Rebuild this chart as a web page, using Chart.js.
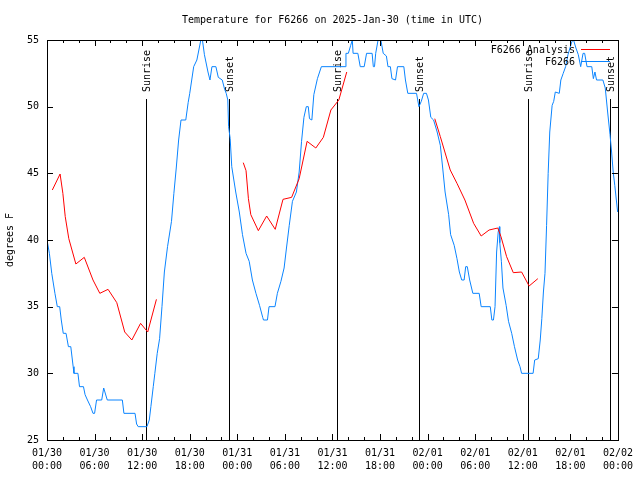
<!DOCTYPE html>
<html><head><meta charset="utf-8">
<script src="https://cdn.jsdelivr.net/npm/chart.js@4"></script>
<style>html,body{margin:0;padding:0;background:#fff}canvas{display:block}</style>
</head><body>
<canvas id="c" width="640" height="480"></canvas>
<script>
const titleText = 'Temperature for F6266 on 2025-Jan-30 (time in UTC)';
const yAxisTitle = 'degrees F';
const tickDates = ['01/30','01/30','01/30','01/30','01/31','01/31','01/31','01/31','02/01','02/01','02/01','02/01','02/02'];
const tickTimes = ['00:00','06:00','12:00','18:00','00:00','06:00','12:00','18:00','00:00','06:00','12:00','18:00','00:00'];

// hours since 2025-01-30 00:00 UTC
const stationHours = [0,0.3,0.6,1.0,1.3,1.6,1.8,2.05,2.4,2.7,3.0,3.3,3.4,3.9,4.1,4.6,4.8,5.1,5.5,5.8,6.0,6.25,6.9,7.15,7.3,7.6,9.5,9.7,11.1,11.3,11.5,12.6,12.9,13.1,13.4,13.6,13.9,14.2,14.5,14.8,15.2,15.7,16.0,16.3,16.6,16.9,17.5,17.8,18.0,18.5,18.9,19.1,19.4,19.6,19.85,20.3,20.55,20.8,21.3,21.6,22.1,22.4,22.6,22.8,22.9,23.1,23.3,23.8,24.25,24.65,25.1,25.5,25.9,26.35,26.8,27.2,27.3,27.8,28.0,28.75,29.05,29.5,29.9,30.2,30.55,30.95,31.45,31.8,32.1,32.4,32.7,32.95,33.1,33.4,33.65,34.1,34.6,37.6,37.7,38.0,38.3,38.5,38.6,39.2,39.5,40.0,40.3,41.0,41.15,41.3,41.45,41.75,42.1,42.4,42.8,43.0,43.3,43.5,43.95,44.2,45.0,45.2,45.5,46.6,46.9,47.2,47.5,47.85,48.1,48.4,48.75,49.2,49.6,49.9,50.2,50.65,50.9,51.35,51.7,52.0,52.3,52.6,52.8,53.0,53.3,53.7,54.5,54.75,55.9,56.1,56.3,56.5,56.7,56.9,57.05,57.1,57.3,57.5,57.9,58.2,58.6,58.95,59.35,59.65,59.85,61.3,61.5,61.95,62.2,62.4,62.6,62.8,63.0,63.2,63.4,63.7,63.9,64.1,64.6,64.8,65.1,65.4,65.7,66.2,66.4,66.7,67.0,67.3,67.6,67.8,68.1,68.7,68.9,69.1,69.3,70.1,70.4,70.7,71.0,71.2,71.4,71.6,71.96];
const stationTemps = [40,39,37.5,36,35,35,34,33,33,32,32,30.5,30,30,29,29,28.4,28,27.5,27,27,28,28,28.9,28.6,28,28,27,27,26.2,26,26,26.5,27.5,29,30,31.5,32.6,35,37.6,39.5,41.4,43.5,45.4,47.5,49,49,50.3,51,53,53.5,54.1,55,55,53.9,52.6,52,53,53,52.2,52,51.3,51,50.5,48.5,47.6,45.5,43.6,42.1,40.4,39,38.4,37,36,35.1,34.2,34,34,35,35,36,36.9,37.9,39.4,41.1,42.9,43.6,45.1,47.4,49.2,50,50,49.1,49,50.9,52.1,53,53,54,54,54.6,55,54,54,53,53,54,54,53,53,54,55,55,54,53.8,53,53,52.1,52,53,53,52,51,51,50,50.4,51,51,50.5,49.2,49,48.1,47.1,45.4,43.6,41.9,40.4,39.6,38.6,37.6,37,37,38,38,37,36,36,35,35,34,34,35,39.1,40.6,41,39.8,38.4,36.4,35.1,33.9,33,32,31,30.5,30,30,31,31.1,32.5,34.1,36.1,37.5,41.1,45,48.1,50.1,50.4,51.1,51,52,52.5,53,53.9,54.9,55,54.4,53.9,53,54,54,53,53,52.1,52.6,52,52,51.4,49.6,47.9,46.6,45.1,44.1,42.1];

const analysisHours = [0.67,1.65,2.0,2.3,2.75,3.64,4.7,5.8,6.66,7.7,8.8,9.8,10.7,11.8,12.7,13.8,19,24.75,25.1,25.4,25.7,26.65,27.7,28.78,29.76,30.85,31.8,32.8,33.9,34.85,35.8,36.8,37.8,43,48.9,49.6,50.85,51.7,52.7,53.8,54.75,55.75,56.85,57.25,57.96,58.8,59.85,60.8,61.9];
const analysisTemps = [43.75,44.95,43.5,41.75,40.1,38.2,38.7,37,36,36.3,35.3,33.1,32.5,33.75,33.1,35.55,null,45.8,45.2,43.1,41.9,40.7,41.8,40.8,43.05,43.2,44.6,47.4,46.9,47.7,49.75,50.5,52.6,null,49.1,47.75,45.25,44.25,43,41.25,40.3,40.75,40.9,40.25,38.75,37.55,37.6,36.55,37.1];

const eventHours = [12.48, 22.9, 36.6, 46.9, 60.7, 71.0];
const eventLabels = ['Sunrise','Sunset','Sunrise','Sunset','Sunrise','Sunset'];

const seriesNames = ['F6266 Analysis', 'F6266'];
const seriesColors = ['#ff0000', '#0a84ff'];

const FONT = '10px "DejaVu Sans Mono", monospace';

const deco = {
  id: 'deco',
  beforeDatasetsDraw(chart) {
    const ctx = chart.ctx, a = chart.chartArea, xs = chart.scales.x;
    ctx.save();
    ctx.strokeStyle = '#000'; ctx.lineWidth = 1;
    ctx.fillStyle = '#000'; ctx.font = FONT;
    eventHours.forEach((h, i) => {
      const px = Math.round(xs.getPixelForValue(h)) + 0.5;
      ctx.beginPath(); ctx.moveTo(px, 99); ctx.lineTo(px, a.bottom); ctx.stroke();
      ctx.save();
      ctx.translate(px + 1, 92);
      ctx.rotate(-Math.PI / 2);
      ctx.textAlign = 'left'; ctx.textBaseline = 'middle';
      ctx.fillText(eventLabels[i], 0, 0);
      ctx.restore();
    });
    ctx.restore();
  },
  afterDatasetsDraw(chart) {
    const ctx = chart.ctx, a = chart.chartArea, xs = chart.scales.x, ys = chart.scales.y;
    ctx.save();
    ctx.strokeStyle = '#000'; ctx.lineWidth = 1;
    ctx.strokeRect(Math.round(a.left) + 0.5, Math.round(a.top) + 0.5, Math.round(a.right - a.left), Math.round(a.bottom - a.top));
    ctx.beginPath();
    for (let h = xs.min; h <= xs.max; h += 2) {
      const px = Math.round(xs.getPixelForValue(h)) + 0.5;
      const len = (h % 6 === 0) ? 6 : 3;
      ctx.moveTo(px, a.bottom); ctx.lineTo(px, a.bottom - len);
      ctx.moveTo(px, a.top); ctx.lineTo(px, a.top + len);
    }
    for (let v = ys.min; v <= ys.max; v += 5) {
      const py = Math.round(ys.getPixelForValue(v)) + 0.5;
      ctx.moveTo(a.left, py); ctx.lineTo(a.left + 6, py);
      ctx.moveTo(a.right, py); ctx.lineTo(a.right - 6, py);
    }
    ctx.stroke();
    // title
    ctx.fillStyle = '#000'; ctx.font = FONT;
    ctx.textAlign = 'center'; ctx.textBaseline = 'middle';
    ctx.fillText(titleText, (a.left + a.right) / 2, 20);
    // legend
    ctx.textAlign = 'right';
    [50, 62].forEach((y, i) => {
      ctx.fillStyle = '#000';
      ctx.fillText(seriesNames[i], 575, y);
      ctx.strokeStyle = seriesColors[i];
      ctx.beginPath(); ctx.moveTo(581, y - 0.5); ctx.lineTo(610, y - 0.5); ctx.stroke();
    });
    ctx.restore();
  }
};

new Chart(document.getElementById('c'), {
  type: 'line',
  data: {
    datasets: [
      {
        label: seriesNames[0],
        data: analysisHours.map((h, i) => ({x: h, y: analysisTemps[i]})),
        borderColor: seriesColors[0], borderWidth: 1, pointRadius: 0, tension: 0, fill: false, spanGaps: false
      },
      {
        label: seriesNames[1],
        data: stationHours.map((h, i) => ({x: h, y: stationTemps[i]})),
        borderColor: seriesColors[1], borderWidth: 1, pointRadius: 0, tension: 0, fill: false
      }
    ]
  },
  options: {
    responsive: false, animation: false, devicePixelRatio: 1,
    layout: { padding: { top: 40, right: 20, bottom: 0, left: 0 } },
    plugins: { legend: { display: false }, title: { display: false }, tooltip: { enabled: false } },
    scales: {
      x: {
        type: 'linear', min: 0, max: 72,
        grid: { display: false, drawTicks: false },
        border: { display: false },
        ticks: {
          stepSize: 6, autoSkip: false, maxRotation: 0, minRotation: 0, padding: 7,
          color: '#000', font: { family: '"DejaVu Sans Mono", monospace', size: 10, lineHeight: 1.3 },
          callback: (v) => { const i = Math.round(v / 6); return [tickDates[i], tickTimes[i]]; }
        },
        afterFit: (s) => { s.height = 40; }
      },
      y: {
        min: 25, max: 55,
        grid: { display: false, drawTicks: false },
        border: { display: false },
        ticks: { stepSize: 5, padding: 8, color: '#000', font: { family: '"DejaVu Sans Mono", monospace', size: 10 } },
        title: { display: true, text: yAxisTitle, color: '#000', font: { family: '"DejaVu Sans Mono", monospace', size: 10 }, padding: { top: 4, bottom: 0 } },
        afterFit: (s) => { s.width = 47; }
      }
    }
  },
  plugins: [deco]
});
</script>
</body></html>
